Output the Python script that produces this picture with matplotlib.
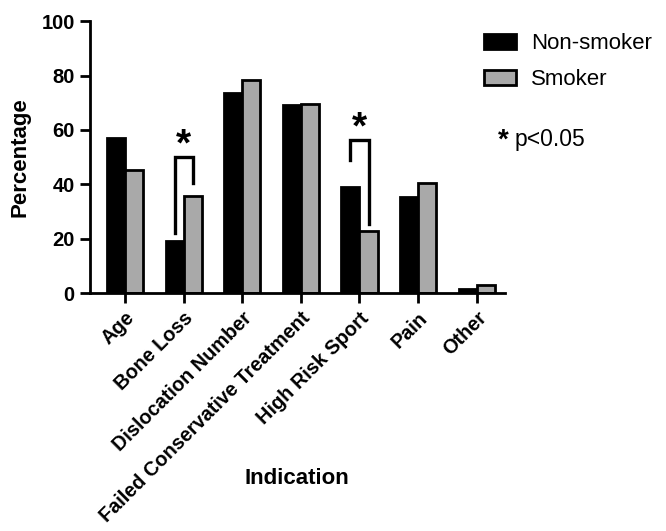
import matplotlib
matplotlib.use("Agg")
import matplotlib.pyplot as plt
import numpy as np
from matplotlib.patches import Patch

plt.rcParams['font.family'] = ['Liberation Sans', 'DejaVu Sans']

categories = ["Age", "Bone Loss", "Dislocation Number", "Failed Conservative Treatment",
              "High Risk Sport", "Pain", "Other"]
non_smoker = [57.0, 19.2, 73.6, 69.2, 39.2, 35.3, 1.5]
smoker = [45.3, 35.7, 78.3, 69.6, 22.8, 40.6, 2.8]
y_ticks = [0, 20, 40, 60, 80, 100]

# significance brackets: (category index, bracket top, left drop, right drop)
brackets = [(1, 50.0, 22.0, 40.5), (4, 56.5, 49.0, 25.5)]

fig = plt.figure(figsize=(6.66, 5.31), dpi=100)
ax = fig.add_axes([0.135, 0.448, 0.623, 0.512])

x = np.arange(len(categories))
w = 0.31
ax.bar(x - w / 2, non_smoker, width=w, color="black", edgecolor="black", linewidth=2, label="Non-smoker")
ax.bar(x + w / 2, smoker, width=w, color="#a9a9a9", edgecolor="black", linewidth=2, label="Smoker")

for idx, top, left_end, right_end in brackets:
    xl, xr = idx - w / 2, idx + w / 2
    ax.plot([xl, xl, xr, xr], [left_end, top, top, right_end], color="black", lw=2.4,
            solid_joinstyle="miter", clip_on=False)
    ax.text(idx, top - 2.5, "*", ha="center", va="bottom", fontsize=28, fontweight="bold")

ax.set_xlim(-0.6, 6.48)
ax.set_ylim(0, 100)
ax.set_yticks(y_ticks)
ax.set_yticklabels([str(t) for t in y_ticks], fontsize=14.5, fontweight="bold")
ax.set_xticks(x)
ax.set_xticklabels(categories, rotation=45, ha="right", rotation_mode="anchor",
                   fontsize=14.3, fontweight="bold")
ax.spines["top"].set_visible(False)
ax.spines["right"].set_visible(False)
ax.spines["left"].set_linewidth(2)
ax.spines["bottom"].set_linewidth(2)
ax.tick_params(axis="both", width=2, length=7, direction="out", pad=4)
ax.set_ylabel("Percentage", fontsize=16, fontweight="bold", labelpad=8)
ax.set_xlabel("Indication", fontsize=16, fontweight="bold")
ax.xaxis.set_label_coords(0.5, -0.645)

handles = [Patch(facecolor="black", edgecolor="black", linewidth=2),
           Patch(facecolor="#a9a9a9", edgecolor="black", linewidth=2)]
fig.legend(handles, ["Non-smoker", "Smoker"], loc="upper left", bbox_to_anchor=(0.697, 0.975),
           frameon=False, fontsize=16, handlelength=1.45, handleheight=0.65,
           labelspacing=0.68, handletextpad=0.65)
fig.text(0.748, 0.735, "*", fontsize=20, va="center", ha="left", fontweight="bold")
fig.text(0.773, 0.738, "p<0.05", fontsize=16.5, va="center", ha="left")

fig.savefig("out.png", dpi=100, facecolor="white")
